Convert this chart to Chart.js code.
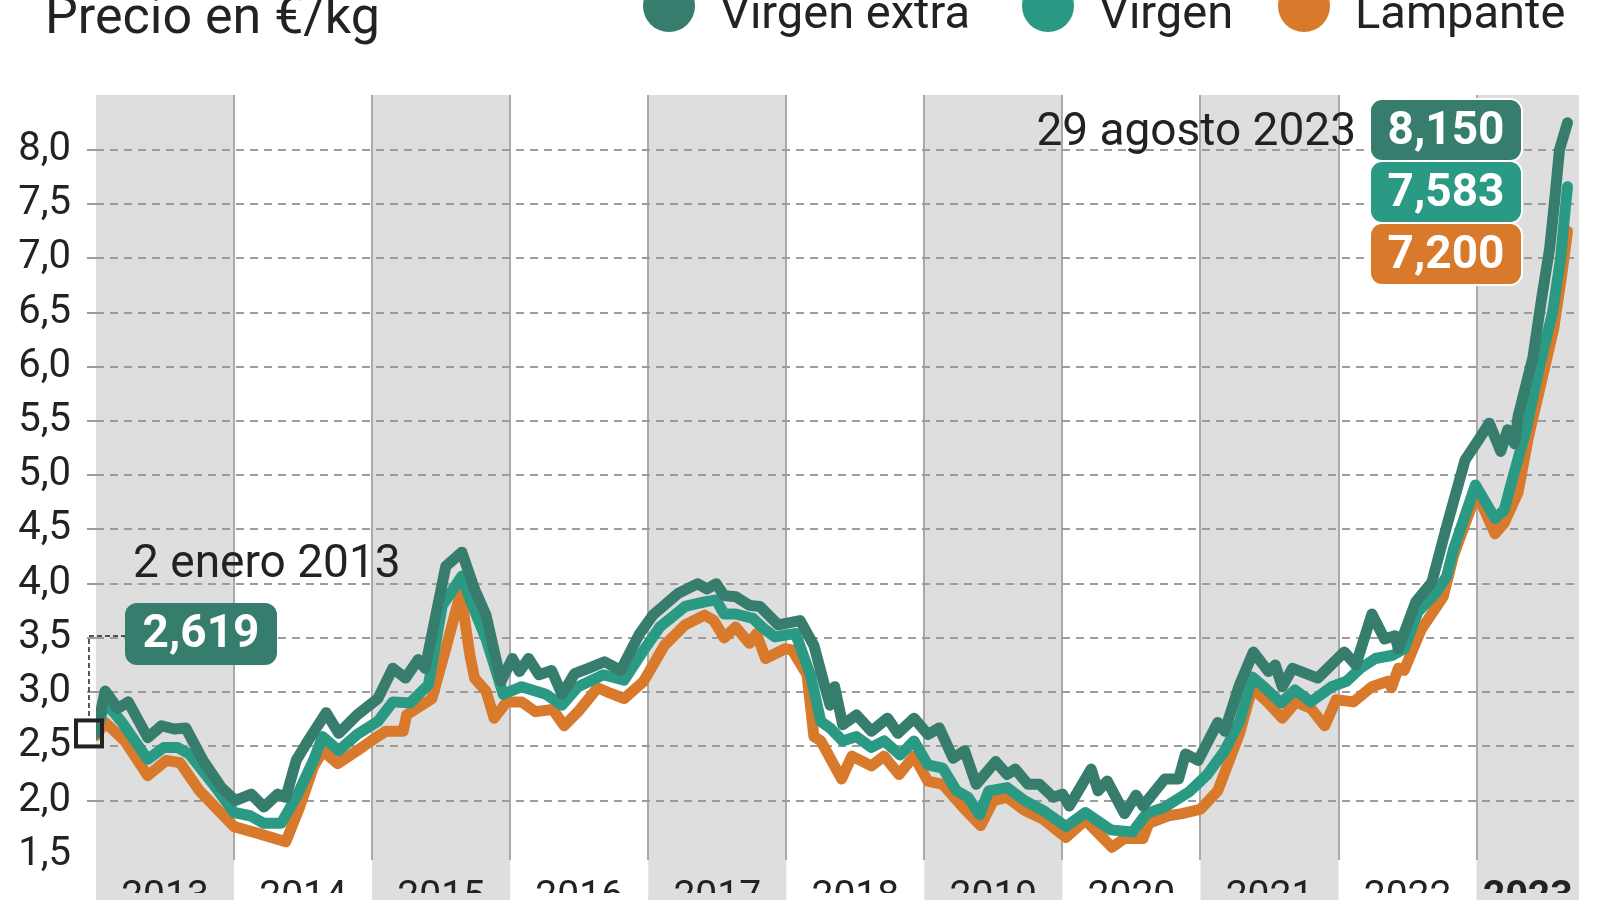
<!DOCTYPE html>
<html>
<head>
<meta charset="utf-8">
<script src="https://cdn.jsdelivr.net/npm/chart.js@4.4.0/dist/chart.umd.min.js"></script>
<style>
  html, body { margin: 0; padding: 0; background: #fff; }
  #wrap { width: 1600px; height: 900px; position: relative; }
</style>
</head>
<body>
<div id="wrap"><canvas id="myChart"></canvas></div>
<script>
// series names and colours
var seriesNames = ['Virgen extra', 'Virgen', 'Lampante'];
var seriesColors = ['#377d6d', '#2b9a85', '#d8792b'];

// x axis: months counted from 1 Jan 2013
var years = ['2013', '2014', '2015', '2016', '2017', '2018', '2019', '2020', '2021', '2022', '2023'];
var yearStarts = [0, 12, 24, 36, 48, 60, 72, 84, 96, 108, 120];
var yTicks = [1.5, 2.0, 2.5, 3.0, 3.5, 4.0, 4.5, 5.0, 5.5, 6.0, 6.5, 7.0, 7.5, 8.0];

// callout values (2 enero 2013 and 29 agosto 2023)
var startLabel = 2.619;
var endLabels = [8.150, 7.583, 7.200];

// Virgen extra
var extraMonths = [0, 0.8, 1.9, 2.8, 4.5, 5.7, 6.8, 7.8, 9.3, 10.9, 12.1, 13.5, 14.6, 15.8, 16.5, 17.4, 18.6, 20.0, 21.1, 22.7,
  24.5, 25.8, 26.9, 28.0, 28.6, 30.4, 31.8, 32.9, 33.9, 35.2, 36.2, 36.8, 37.6, 38.5, 39.6, 40.5, 41.6, 42.8, 44.2, 45.6,
  47.2, 48.4, 50.6, 52.3, 53.1, 53.9, 54.6, 55.6, 56.8, 57.7, 59.3, 61.2, 62.4, 63.3, 63.8, 64.2, 64.9, 66.1, 67.4, 68.8,
  69.7, 71.1, 72.3, 73.3, 74.5, 75.5, 76.5, 78.2, 79.2, 79.9, 81.0, 82.0, 83.2, 84.0, 84.6, 86.5, 87.1, 87.9, 89.4, 90.4,
  91.0, 92.9, 94.1, 94.7, 95.8, 97.5, 98.1, 99.4, 100.6, 101.9, 102.5, 103.1, 104.0, 106.2, 108.5, 109.5, 110.9, 112.0, 112.9, 113.2,
  114.7, 116.1, 117.4, 119.0, 120.0, 121.1, 122.1, 122.7, 123.3, 123.6, 124.9, 125.65, 126.35, 126.8, 127.2, 127.9];
var extraValues = [2.619, 3.01, 2.85, 2.91, 2.58, 2.69, 2.66, 2.67, 2.37, 2.12, 2.00, 2.06, 1.94, 2.06, 2.03, 2.37, 2.58, 2.81, 2.62, 2.79,
  2.94, 3.22, 3.13, 3.30, 3.22, 4.16, 4.29, 3.95, 3.71, 3.10, 3.31, 3.19, 3.31, 3.16, 3.20, 2.98, 3.17, 3.22, 3.28, 3.20,
  3.53, 3.71, 3.91, 4.00, 3.95, 4.00, 3.89, 3.88, 3.80, 3.79, 3.62, 3.66, 3.43, 3.07, 2.88, 3.05, 2.70, 2.79, 2.64, 2.76,
  2.62, 2.76, 2.61, 2.67, 2.39, 2.46, 2.15, 2.36, 2.24, 2.29, 2.15, 2.15, 2.03, 2.06, 1.95, 2.29, 2.09, 2.18, 1.88, 2.05,
  1.95, 2.20, 2.20, 2.43, 2.37, 2.72, 2.64, 3.07, 3.37, 3.19, 3.25, 3.05, 3.22, 3.13, 3.37, 3.25, 3.72, 3.49, 3.52, 3.40,
  3.83, 4.01, 4.53, 5.14, 5.30, 5.48, 5.22, 5.42, 5.29, 5.54, 6.09, 6.63, 7.09, 7.55, 8.00, 8.25];

// Virgen
var virgenMonths = [0, 0.8, 2.2, 4.5, 5.9, 7.1, 8.1, 10.2, 12.0, 13.4, 14.6, 16.1, 17.4, 18.9, 19.7, 21.1, 22.7, 24.5, 25.8, 27.3,
  28.9, 30.1, 31.8, 32.6, 33.9, 35.4, 37.0, 39.1, 40.5, 41.9, 44.1, 45.9, 47.5, 49.0, 51.2, 52.8, 53.9, 54.6, 55.6, 57.1,
  58.0, 59.0, 60.8, 62.1, 63.0, 63.8, 64.9, 66.1, 67.4, 68.5, 69.9, 71.1, 72.3, 73.6, 74.8, 75.8, 76.8, 77.6, 79.2, 80.7,
  82.3, 84.3, 86.0, 88.2, 90.1, 91.3, 92.9, 95.0, 96.6, 98.1, 99.4, 100.5, 101.5, 103.0, 104.2, 105.6, 107.4, 108.7, 109.9, 111.2,
  112.7, 113.7, 114.9, 116.5, 117.4, 118.0, 119.9, 121.6, 122.4, 123.1, 124.3, 125.5, 126.6, 127.3, 127.7, 127.9];
var virgenValues = [2.619, 2.91, 2.73, 2.38, 2.49, 2.49, 2.43, 2.15, 1.89, 1.86, 1.79, 1.79, 2.03, 2.37, 2.59, 2.46, 2.61, 2.73, 2.91, 2.90,
  3.07, 3.80, 4.07, 3.83, 3.49, 2.98, 3.05, 2.98, 2.88, 3.05, 3.16, 3.11, 3.37, 3.60, 3.79, 3.83, 3.85, 3.72, 3.72, 3.68,
  3.59, 3.51, 3.54, 3.16, 2.73, 2.67, 2.55, 2.59, 2.49, 2.55, 2.42, 2.55, 2.33, 2.30, 2.09, 2.03, 1.87, 2.09, 2.12, 2.00,
  1.91, 1.76, 1.89, 1.73, 1.71, 1.88, 1.94, 2.08, 2.24, 2.46, 2.73, 3.14, 3.05, 2.90, 3.02, 2.91, 3.05, 3.10, 3.22, 3.31,
  3.34, 3.40, 3.74, 3.92, 4.07, 4.32, 4.91, 4.60, 4.68, 4.96, 5.42, 6.02, 6.50, 7.00, 7.45, 7.66];

// Lampante
var lampanteMonths = [0, 0.8, 2.5, 4.5, 6.1, 7.3, 9.0, 12.0, 14.0, 16.5, 17.7, 18.9, 19.7, 21.0, 22.7, 23.9, 25.2, 26.7, 27.0, 29.2,
  30.4, 31.7, 32.5, 32.9, 33.9, 34.6, 35.7, 37.0, 38.2, 39.7, 40.7, 41.9, 43.6, 44.7, 45.9, 47.6, 49.4, 51.2, 52.9, 53.7,
  54.6, 55.6, 56.8, 57.4, 58.2, 59.9, 60.5, 61.8, 62.4, 63.0, 64.8, 65.7, 67.4, 68.5, 69.8, 71.1, 72.3, 73.6, 75.5, 76.9,
  78.0, 79.2, 80.7, 82.3, 84.3, 86.0, 88.3, 89.4, 91.0, 91.5, 93.2, 94.4, 96.0, 97.5, 99.4, 100.5, 101.9, 103.1, 104.3, 105.6,
  106.8, 107.8, 109.3, 110.9, 112.3, 112.6, 113.2, 113.7, 115.2, 117.1, 118.0, 120.0, 121.6, 122.4, 123.6, 124.5, 125.6, 126.7, 127.4, 127.9];
var lampanteValues = [2.60, 2.72, 2.55, 2.23, 2.37, 2.35, 2.09, 1.76, 1.70, 1.62, 1.94, 2.31, 2.46, 2.34, 2.46, 2.55, 2.64, 2.64, 2.79, 2.94,
  3.40, 3.92, 3.34, 3.13, 3.01, 2.76, 2.91, 2.91, 2.82, 2.84, 2.69, 2.82, 3.04, 2.99, 2.94, 3.10, 3.43, 3.62, 3.71, 3.66,
  3.50, 3.60, 3.45, 3.54, 3.31, 3.40, 3.39, 3.16, 2.59, 2.55, 2.20, 2.41, 2.32, 2.41, 2.24, 2.41, 2.18, 2.15, 1.92, 1.77,
  2.00, 2.03, 1.91, 1.83, 1.66, 1.82, 1.57, 1.65, 1.65, 1.79, 1.86, 1.88, 1.92, 2.09, 2.62, 3.04, 2.90, 2.76, 2.91, 2.85,
  2.69, 2.93, 2.91, 3.05, 3.10, 3.04, 3.22, 3.20, 3.58, 3.88, 4.26, 4.84, 4.46, 4.56, 4.84, 5.35, 5.85, 6.35, 6.85, 7.25];

var xMax = 128.9;
var FONT = 'Roboto, "Noto Sans", sans-serif';

function toPoints(ms, vs) {
  var pts = [];
  for (var i = 0; i < ms.length; i++) pts.push({ x: ms[i], y: vs[i] });
  return pts;
}
function fmt(v, d) { return v.toFixed(d).replace('.', ','); }

function roundRect(ctx, x, y, w, h, r) {
  ctx.beginPath();
  ctx.moveTo(x + r, y);
  ctx.arcTo(x + w, y, x + w, y + h, r);
  ctx.arcTo(x + w, y + h, x, y + h, r);
  ctx.arcTo(x, y + h, x, y, r);
  ctx.arcTo(x, y, x + w, y, r);
  ctx.closePath();
}

// grey bands behind alternate years
var bandsPlugin = {
  id: 'bands',
  beforeDraw: function(chart) {
    var ctx = chart.ctx, xs = chart.scales.x, area = chart.chartArea;
    ctx.save();
    ctx.fillStyle = '#fff';
    ctx.fillRect(0, 0, chart.width, chart.height);
    ctx.fillStyle = '#dedede';
    for (var i = 0; i < yearStarts.length; i += 2) {
      var x0 = xs.getPixelForValue(yearStarts[i]);
      var x1 = xs.getPixelForValue(i + 1 < yearStarts.length ? yearStarts[i + 1] : xMax);
      ctx.fillRect(x0, area.top, x1 - x0, chart.height - area.top);
    }
    ctx.restore();
  }
};

// title, legend and callouts
var notesPlugin = {
  id: 'notes',
  afterDraw: function(chart) {
    var ctx = chart.ctx, xs = chart.scales.x, ys = chart.scales.y;
    ctx.save();
    ctx.fillStyle = '#222';
    ctx.font = '52px ' + FONT;
    ctx.textBaseline = 'alphabetic';
    ctx.textAlign = 'left';
    ctx.fillText('Precio en \u20ac/kg', 45, 33);

    ctx.font = '47px ' + FONT;
    var legX = [669, 1048, 1304];
    for (var i = 0; i < seriesNames.length; i++) {
      ctx.fillStyle = seriesColors[i];
      ctx.beginPath();
      ctx.arc(legX[i], 6, 26, 0, Math.PI * 2);
      ctx.fill();
      ctx.fillStyle = '#222';
      ctx.fillText(seriesNames[i], legX[i] + 51, 28);
    }

    // start callout
    var sx = xs.getPixelForValue(extraMonths[0]) - 7;
    var sy = ys.getPixelForValue(startLabel);
    ctx.strokeStyle = '#222';
    ctx.lineWidth = 1.5;
    ctx.setLineDash([5, 3]);
    ctx.beginPath();
    ctx.moveTo(126, 636);
    ctx.lineTo(sx, 636);
    ctx.lineTo(sx, sy - 15);
    ctx.stroke();
    ctx.setLineDash([]);
    ctx.lineWidth = 4;
    ctx.strokeRect(sx - 13, sy - 13, 26, 26);

    ctx.fillStyle = '#222';
    ctx.font = '46px ' + FONT;
    ctx.textBaseline = 'middle';
    ctx.fillText('2 enero 2013', 133, 565);

    ctx.fillStyle = seriesColors[0];
    roundRect(ctx, 125, 603, 152, 62, 12);
    ctx.fill();
    ctx.fillStyle = '#fff';
    ctx.font = 'bold 46px ' + FONT;
    ctx.textAlign = 'center';
    ctx.fillText(fmt(startLabel, 3), 201, 635);

    // end callouts
    ctx.textAlign = 'right';
    ctx.fillStyle = '#222';
    ctx.font = '46px ' + FONT;
    ctx.fillText('29 agosto 2023', 1356, 133);
    for (var j = 0; j < endLabels.length; j++) {
      var by = 99 + j * 62;
      ctx.fillStyle = seriesColors[j];
      roundRect(ctx, 1370, by, 152, 62, 12);
      ctx.fill();
      ctx.strokeStyle = '#fff';
      ctx.lineWidth = 2;
      ctx.stroke();
      ctx.fillStyle = '#fff';
      ctx.font = 'bold 46px ' + FONT;
      ctx.textAlign = 'center';
      ctx.fillText(fmt(endLabels[j], 3), 1446, by + 33);
    }
    ctx.restore();
  }
};

var ctx = document.getElementById('myChart').getContext('2d');
var chart = new Chart(ctx, {
  type: 'line',
  data: {
    datasets: [{
      label: seriesNames[0],
      data: toPoints(extraMonths, extraValues),
      borderColor: seriesColors[0]
    }, {
      label: seriesNames[1],
      data: toPoints(virgenMonths, virgenValues),
      borderColor: seriesColors[1]
    }, {
      label: seriesNames[2],
      data: toPoints(lampanteMonths, lampanteValues),
      borderColor: seriesColors[2]
    }]
  },
  options: {
    responsive: true,
    maintainAspectRatio: false,
    devicePixelRatio: 1,
    animation: false,
    layout: { padding: { top: 95, right: 21, left: 0, bottom: 0 } },
    elements: {
      point: { radius: 0 },
      line: { borderWidth: 11, tension: 0, borderJoinStyle: 'round', borderCapStyle: 'round', fill: false }
    },
    plugins: { legend: { display: false }, tooltip: { enabled: false } },
    scales: {
      x: {
        type: 'linear', position: 'bottom', min: 0, max: xMax,
        afterBuildTicks: function(s) {
          s.ticks = yearStarts.slice(1).map(function(v) { return { value: v }; });
        },
        afterFit: function(s) { s.height = 0; },
        grid: { color: '#a9a9a9', lineWidth: 2, drawTicks: false },
        border: { display: false },
        ticks: { display: false }
      },
      x2: {
        type: 'linear', position: 'bottom', min: 0, max: xMax,
        afterBuildTicks: function(s) {
          s.ticks = yearStarts.map(function(v, i) {
            var end = i + 1 < yearStarts.length ? yearStarts[i + 1] : xMax;
            return { value: (v + end) / 2 };
          });
        },
        afterFit: function(s) { s.height = 33; },
        grid: { display: false, drawTicks: false },
        border: { display: false },
        ticks: {
          autoSkip: false, maxRotation: 0, padding: 15, color: '#222',
          font: function(c) {
            return { family: FONT, size: 39, weight: c.index === years.length - 1 ? 'bold' : 'normal' };
          },
          callback: function(v, i) { return years[i]; }
        }
      },
      y: {
        type: 'linear', min: 1.452, max: 8.506,
        afterBuildTicks: function(s) {
          s.ticks = yTicks.map(function(v) { return { value: v }; });
        },
        afterFit: function(s) { s.width = 96; },
        grid: {
          color: function(c) { return c.tick && c.tick.value === 1.5 ? 'rgba(0,0,0,0)' : '#9c9c9c'; },
          lineWidth: 2, drawTicks: true, tickLength: 9
        },
        border: { display: false, dash: [8, 6] },
        ticks: {
          padding: 16, color: '#222', font: { family: FONT, size: 40 },
          callback: function(v) { return fmt(v, 1); }
        }
      }
    }
  },
  plugins: [bandsPlugin, notesPlugin]
});
</script>
</body>
</html>
